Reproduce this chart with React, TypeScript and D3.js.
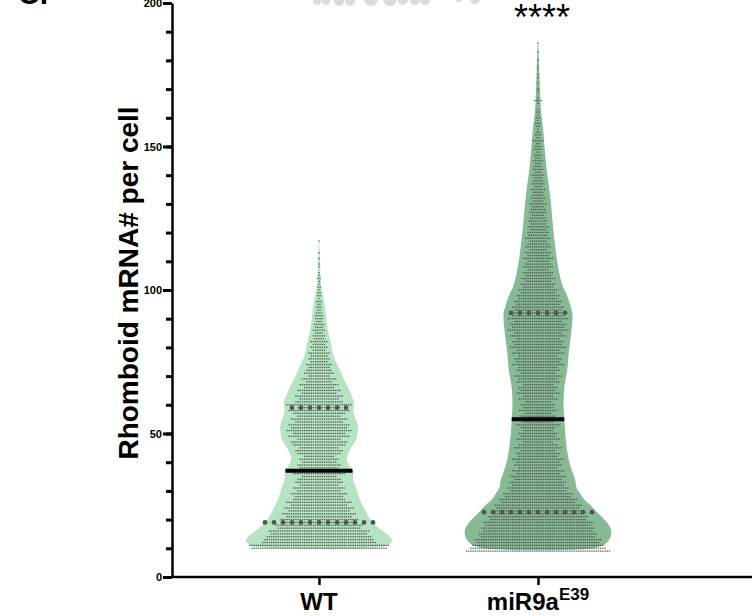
import React, { useRef, useEffect } from 'react';
import * as d3 from 'd3';

// groups on the x axis
const groups = ['WT', 'miR9a'];

// y axis ticks
const yMajorTicks = [0, 50, 100, 150, 200];
const yMinorTicks = [0, 10, 20, 30, 40, 50, 60, 70, 80, 90, 100, 110, 120, 130, 140, 150, 160, 170, 180, 190, 200];

// cells per mRNA count (one row of dots per integer value)
const wtRowStart = 10;
const wtRowCounts = [
  62, 64, 52, 50, 48, 44, 46, 38, 40, 34,
  36, 30, 34, 28, 32, 26, 30, 24, 22, 26,
  20, 24, 18, 22, 20, 16, 24, 22, 18, 20,
  16, 18, 14, 20, 22, 18, 24, 26, 20, 28,
  24, 30, 26, 28, 22, 26, 20, 24, 28, 20,
  30, 22, 18, 22, 16, 20, 14, 18, 12, 16,
  10, 14, 12, 10, 12, 8, 10, 8, 10, 6,
  8, 6, 8, 5, 6, 4, 6, 4, 5, 3,
  4, 4, 3, 2, 3, 2, 3, 1, 2, 2,
  1, 2, 1, 1, 2, 1, 1, 0, 1, 1,
  0, 1, 0, 1, 0, 0, 0, 1,
];

const mirRowStart = 9;
const mirRowCounts = [
  66, 62, 60, 56, 58, 52, 54, 50, 52, 48,
  50, 44, 46, 40, 42, 38, 40, 34, 36, 30,
  32, 26, 28, 24, 26, 22, 26, 20, 24, 18,
  22, 20, 24, 18, 20, 16, 22, 18, 14, 20,
  16, 18, 14, 16, 20, 14, 18, 16, 12, 18,
  14, 16, 12, 18, 14, 20, 16, 18, 14, 20,
  18, 22, 16, 20, 18, 24, 20, 22, 18, 24,
  20, 26, 22, 24, 20, 26, 22, 28, 24, 26,
  22, 28, 24, 26, 22, 24, 20, 22, 18, 20,
  16, 18, 14, 16, 12, 16, 12, 14, 10, 14,
  12, 10, 14, 10, 12, 8, 12, 10, 8, 12,
  9, 10, 8, 10, 7, 9, 8, 6, 8, 7,
  6, 8, 5, 7, 6, 5, 7, 4, 6, 5,
  4, 6, 3, 5, 4, 3, 5, 3, 4, 2,
  4, 3, 2, 5, 2, 3, 2, 1, 2, 3,
  1, 2, 1, 2, 1, 0, 1, 4, 1, 0,
  1, 1, 0, 1, 0, 1, 1, 0, 1, 1,
  0, 1, 0, 0, 1, 0, 0, 1,
];

// violin outlines: relative density at each value
const wtViolinValues = [9.8, 10.2, 11, 12.5, 14, 15, 17, 19, 21, 24, 27, 31, 34, 37, 39, 41, 43, 45, 48, 51, 53, 56, 58, 61, 63, 66, 69, 72, 75, 78, 82, 86, 90, 94, 98, 101, 105, 110, 117];
const wtViolinDensity = [0, 0.68, 0.93, 1, 0.97, 0.93, 0.82, 0.74, 0.68, 0.62, 0.56, 0.51, 0.47, 0.46, 0.41, 0.38, 0.4, 0.44, 0.51, 0.53, 0.53, 0.49, 0.47, 0.48, 0.45, 0.4, 0.34, 0.29, 0.23, 0.19, 0.16, 0.12, 0.1, 0.08, 0.055, 0.034, 0.02, 0.014, 0.004];
const mirViolinValues = [9.3, 9.8, 11, 12.5, 14.5, 16.5, 18.5, 20.5, 22.5, 24.5, 26.8, 29, 31, 33.8, 36, 40, 44, 48, 55, 60, 66, 72, 78, 84, 89, 92, 94, 98, 102, 109, 121, 132, 144, 156, 163, 175, 186];
const mirViolinDensity = [0, 0.68, 0.88, 0.96, 1, 1, 0.96, 0.89, 0.81, 0.74, 0.64, 0.58, 0.53, 0.51, 0.48, 0.43, 0.4, 0.38, 0.36, 0.35, 0.36, 0.4, 0.42, 0.45, 0.47, 0.47, 0.45, 0.4, 0.33, 0.27, 0.21, 0.17, 0.11, 0.07, 0.04, 0.02, 0.004];

// [25th, median, 75th]
const wtQuartiles = [19, 37, 59];
const mirQuartiles = [22.6, 55, 92];

const App = () => {
  const ref = useRef(null);

  useEffect(() => {
    const svg = d3.select(ref.current);
    svg.selectAll('*').remove();

    const font = "'Liberation Sans', Arial, Helvetica, sans-serif";
    const y = d3.scaleLinear().domain([0, 200]).range([577, 3]);
    const x = d3.scalePoint().domain(groups).range([319, 538]);
    const halfWidth = d3.scaleLinear().domain([0, 1]).range([0, 73]);

    // bits of the panel above, cut off at the top edge
    const frag = svg.append('g').attr('fill', '#d9dcdb');
    [[317, 1, 4], [326, 1, 4], [339, 1, 5], [350, 1, 5], [371, -1, 7], [390, -1, 7], [403, 0, 5], [415, 0, 5], [425, 0, 5], [459, -2, 4], [475, -1, 5]].forEach(([cx, cy, r]) => {
      frag.append('circle').attr('cx', cx).attr('cy', cy).attr('r', r);
    });
    svg.append('text').attr('x', 18).attr('y', 4).attr('font-family', font).attr('font-weight', 'bold')
      .attr('font-size', 30).text('C.');

    const series = [
      { key: 'WT', fill: '#b6e3c1', start: wtRowStart, counts: wtRowCounts, vals: wtViolinValues, dens: wtViolinDensity, q: wtQuartiles },
      { key: 'miR9a', fill: '#88b995', start: mirRowStart, counts: mirRowCounts, vals: mirViolinValues, dens: mirViolinDensity, q: mirQuartiles },
    ];

    series.forEach((s) => {
      const cx = x(s.key);
      const dens = d3.scaleLinear().domain(s.vals).range(s.dens).clamp(true);
      const pts = s.vals.map((v, i) => ({ v, d: s.dens[i] }));

      const area = d3
        .area()
        .y((d) => y(d.v))
        .x0((d) => cx - halfWidth(d.d))
        .x1((d) => cx + halfWidth(d.d))
        .curve(d3.curveCatmullRom.alpha(0.5));

      svg.append('path').datum(pts).attr('d', area).attr('fill', s.fill);

      // individual cells
      const g = svg.append('g').attr('fill', '#434c46').attr('fill-opacity', 0.85);
      s.counts.forEach((n, i) => {
        const v = s.start + i;
        for (let k = 0; k < n; k++) {
          g.append('rect')
            .attr('x', cx + (k - (n - 1) / 2) * 2.2 - 0.7)
            .attr('y', y(v) - 0.7)
            .attr('width', 1.4)
            .attr('height', 1.3);
        }
      });

      // quartile dotted lines
      [s.q[0], s.q[2]].forEach((qv) => {
        const hw = halfWidth(dens(qv));
        const m = Math.floor(hw / 9);
        for (let k = -m; k <= m; k++) {
          svg.append('circle').attr('cx', cx + k * 9).attr('cy', y(qv)).attr('r', 2.4).attr('fill', '#4a5a50');
        }
      });

      // median
      const mhw = halfWidth(dens(s.q[1]));
      svg.append('line')
        .attr('x1', cx - mhw).attr('x2', cx + mhw)
        .attr('y1', y(s.q[1])).attr('y2', y(s.q[1]))
        .attr('stroke', '#000').attr('stroke-width', 4);
    });

    // y axis
    const yMinor = svg.append('g').attr('transform', 'translate(172,0)')
      .call(d3.axisLeft(y).tickValues(yMinorTicks).tickSize(6).tickSizeOuter(0).tickFormat(() => ''));
    yMinor.selectAll('line').attr('stroke', '#000').attr('stroke-width', 3);
    yMinor.select('.domain').remove();

    const yMajor = svg.append('g').attr('transform', 'translate(172,0)')
      .call(d3.axisLeft(y).tickValues(yMajorTicks).tickSize(9).tickSizeOuter(0).tickPadding(1));
    yMajor.selectAll('line').attr('stroke', '#000').attr('stroke-width', 3);
    yMajor.select('.domain').attr('stroke', '#000').attr('stroke-width', 2.5);
    yMajor.selectAll('text').attr('fill', '#000').attr('font-family', font).attr('font-weight', 'bold').attr('font-size', 11);

    // x axis
    const xAxis = svg.append('g').attr('transform', 'translate(0,577)')
      .call(d3.axisBottom(x).tickSize(8).tickSizeOuter(0).tickFormat(() => ''));
    xAxis.select('.domain').attr('d', 'M171,0H760').attr('stroke', '#000').attr('stroke-width', 2.5);
    xAxis.selectAll('line').attr('stroke', '#000').attr('stroke-width', 2.5);

    svg.append('text').attr('x', x('WT')).attr('y', 610).attr('text-anchor', 'middle')
      .attr('font-family', font).attr('font-weight', 'bold').attr('font-size', 24).text('WT');

    const mir = svg.append('text').attr('x', x('miR9a')).attr('y', 610).attr('text-anchor', 'middle')
      .attr('font-family', font).attr('font-weight', 'bold').attr('font-size', 24);
    mir.append('tspan').text('miR9a');
    mir.append('tspan').attr('dy', -10).attr('font-size', 17).text('E39');

    // y title
    svg.append('text').attr('transform', 'translate(138,283) rotate(-90)').attr('text-anchor', 'middle')
      .attr('font-family', font).attr('font-weight', 'bold').attr('font-size', 28).text('Rhomboid mRNA# per cell');

    // significance
    svg.append('text').attr('x', 542).attr('y', 30).attr('text-anchor', 'middle')
      .attr('font-family', font).attr('font-size', 36).text('****');
  }, []);

  return (
    <svg ref={ref} width={752} height={616} style={{ position: 'absolute', left: 0, top: 0, background: '#fff' }} />
  );
};

export default App;
